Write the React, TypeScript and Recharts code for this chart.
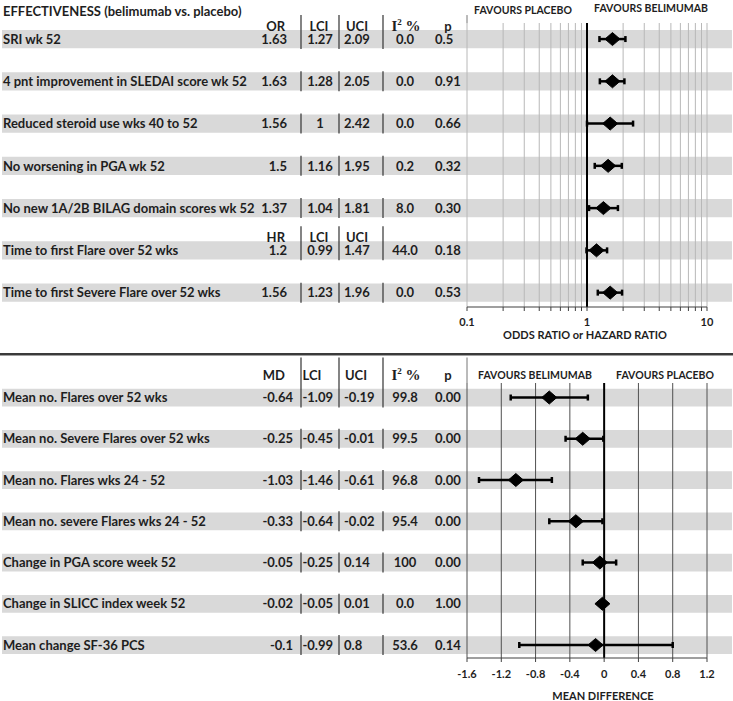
import React from 'react';
import { ComposedChart, XAxis, YAxis, Scatter, ErrorBar, ReferenceArea, ReferenceLine } from 'recharts';

const FONT = 'Lato, "Open Sans", sans-serif';
const SERIF = '"Liberation Serif", "DejaVu Serif", serif';
const TEXT = '#1e1e1e';
const BAND = '#d9d9d9';

// ---------- top panel: effectiveness (OR / HR) ----------
const effLabels = [
  'SRI wk 52',
  '4 pnt improvement in SLEDAI score wk 52',
  'Reduced steroid use wks 40 to 52',
  'No worsening in PGA wk 52',
  'No new 1A/2B BILAG domain scores wk 52',
  'Time to first Flare over  52 wks',
  'Time to first Severe Flare over 52 wks',
];
const effEst = [1.63, 1.63, 1.56, 1.5, 1.37, 1.2, 1.56];
const effLci = [1.27, 1.28, 1, 1.16, 1.04, 0.99, 1.23];
const effUci = [2.09, 2.05, 2.42, 1.95, 1.81, 1.47, 1.96];
const effI2 = ['0.0', '0.0', '0.0', '0.2', '8.0', '44.0', '0.0'];
const effP = ['0.5', '0.91', '0.66', '0.32', '0.30', '0.18', '0.53'];
const effHeaders = [
  { row: 1, est: 'OR', full: true },
  { row: 6, est: 'HR', full: false },
];
const logGrid = [0.1, 0.2, 0.3, 0.4, 0.5, 0.6, 0.7, 0.8, 0.9, 1, 2, 3, 4, 5, 6, 7, 8, 9, 10];
const logMajor = [0.1, 1, 10];

// ---------- bottom panel: mean differences ----------
const mdLabels = [
  'Mean no. Flares over 52 wks',
  'Mean no. Severe Flares over 52 wks',
  'Mean no. Flares wks 24 - 52',
  'Mean no. severe Flares wks 24 - 52',
  'Change in PGA score week 52',
  'Change in SLICC index week 52',
  'Mean change SF-36 PCS',
];
const mdEst = [-0.64, -0.25, -1.03, -0.33, -0.05, -0.02, -0.1];
const mdLci = [-1.09, -0.45, -1.46, -0.64, -0.25, -0.05, -0.99];
const mdUci = [-0.19, -0.01, -0.61, -0.02, 0.14, 0.01, 0.8];
const mdI2 = ['99.8', '99.5', '96.8', '95.4', '100', '0.0', '53.6'];
const mdP = ['0.00', '0.00', '0.00', '0.00', '0.00', '1.00', '0.14'];
const mdHeaders = [{ row: 1, est: 'MD', full: true }];
const mdTicks = [-1.6, -1.2, -0.8, -0.4, 0, 0.4, 0.8, 1.2];

type Row = { row: number; label: string; est: number; lci: number; uci: number; i2: string; p: string; err: number[] };

const buildRows = (labels: string[], est: number[], lci: number[], uci: number[], i2: string[], p: string[]): Row[] =>
  labels.map((label, i) => ({
    row: i + 1,
    label,
    est: est[i],
    lci: lci[i],
    uci: uci[i],
    i2: i2[i],
    p: p[i],
    err: [est[i] - lci[i], uci[i] - est[i]],
  }));

const effRows = buildRows(effLabels, effEst, effLci, effUci, effI2, effP);
const mdRows = buildRows(mdLabels, mdEst, mdLci, mdUci, mdI2, mdP);

type TableLayout = {
  estX: number;
  lciX: number;
  lciAnchor: 'middle' | 'end';
  lciHeadX: number;
  uciHeadX: number;
  headDy: number;
  sepTop: number;
  plotTop: number;
  headers: { row: number; est: string; full: boolean }[];
};

const topLayout: TableLayout = {
  estX: 287, lciX: 320, lciAnchor: 'middle', lciHeadX: 319, uciHeadX: 357,
  headDy: -13, sepTop: -24, plotTop: -16, headers: effHeaders,
};
const bottomLayout: TableLayout = {
  estX: 293, lciX: 333, lciAnchor: 'end', lciHeadX: 312, uciHeadX: 356,
  headDy: -22.5, sepTop: -40, plotTop: -14.5, headers: mdHeaders,
};

const SEPS = [301, 339, 383];
const PLOT_LEFT = 467;

const txt = { fontFamily: FONT, fontWeight: 700, fontSize: 13, fill: TEXT } as const;

function makeTableTick(rows: Row[], L: TableLayout) {
  return function TableTick(props: any) {
    const { y, payload } = props;
    const r = rows.find((d) => d.row === payload.value);
    if (!r) return <g />;
    const ty = y + 4.7;
    const hdr = L.headers.find((h) => h.row === r.row);
    const hy = y + L.headDy + 4.7;
    return (
      <g>
        <text x={3} y={ty} {...txt}>{r.label}</text>
        <text x={L.estX} y={ty} textAnchor="end" {...txt}>{String(r.est)}</text>
        <text x={L.lciX} y={ty} textAnchor={L.lciAnchor} {...txt}>{String(r.lci)}</text>
        <text x={344} y={ty} {...txt}>{String(r.uci)}</text>
        <text x={405} y={ty} textAnchor="middle" {...txt}>{r.i2}</text>
        <text x={435} y={ty} {...txt}>{r.p}</text>
        {SEPS.map((sx) => (
          <line key={sx} x1={sx} x2={sx} y1={hdr ? y + L.sepTop : y - 10} y2={y + 10} stroke="#333" strokeWidth={1.2} />
        ))}
        {hdr && (
          <g>
            <text x={285} y={hy} textAnchor="end" {...txt}>{hdr.est}</text>
            <text x={L.lciHeadX} y={hy} textAnchor="middle" {...txt}>LCI</text>
            <text x={L.uciHeadX} y={hy} textAnchor="middle" {...txt}>UCI</text>
            {hdr.full && (
              <g>
                <text x={406} y={hy} textAnchor="middle" fontFamily={SERIF} fontWeight={700} fontSize={15} fill={TEXT}>
                  I<tspan fontSize={9} dy={-6}>2</tspan>
                  <tspan dy={6}> %</tspan>
                </text>
                <text x={448} y={hy} textAnchor="middle" {...txt}>p</text>
                <line x1={PLOT_LEFT} x2={PLOT_LEFT} y1={y + L.sepTop} y2={y + L.plotTop} stroke="#777" strokeWidth={1} />
              </g>
            )}
          </g>
        )}
      </g>
    );
  };
}

const Diamond = (props: any) => {
  const { cx, cy } = props;
  if (cx == null || cy == null) return <g />;
  return (
    <polygon
      points={`${cx - 7.5},${cy} ${cx},${cy - 6.5} ${cx + 7.5},${cy} ${cx},${cy + 6.5}`}
      fill="#000"
      stroke="#000"
    />
  );
};

const LogTick = (props: any) => {
  const { x, y, payload } = props;
  if (!logMajor.includes(payload.value)) return <g />;
  return (
    <text x={x} y={y + 13} textAnchor="middle" fontFamily={FONT} fontWeight={700} fontSize={11} fill={TEXT}>
      {String(payload.value)}
    </text>
  );
};

const LinTick = (props: any) => {
  const { x, y, payload } = props;
  return (
    <text x={x} y={y + 14} textAnchor="middle" fontFamily={FONT} fontWeight={700} fontSize={11} fill={TEXT}>
      {String(payload.value)}
    </text>
  );
};

const EffTick = makeTableTick(effRows, topLayout);
const MdTick = makeTableTick(mdRows, bottomLayout);
const ROWS = effRows.map((r) => r.row);

const Label = ({ x, y, children, anchor = 'middle', size = 11 }: any) => (
  <div
    style={{
      position: 'absolute',
      left: x,
      top: y,
      transform: `translate(${anchor === 'middle' ? '-50%' : anchor === 'end' ? '-100%' : '0'}, -50%)`,
      fontFamily: FONT,
      fontWeight: 700,
      fontSize: size,
      color: TEXT,
      whiteSpace: 'pre',
      lineHeight: 1,
    }}
  >
    {children}
  </div>
);

const TOP_DOMAIN: [number, number] = [0.62, 7.34];
const BOT_DOMAIN: [number, number] = [0.648, 7.315];
const HALF_BAND = 0.215;

export default function App() {
  return (
    <div style={{ position: 'absolute', left: 0, top: 0, width: 733, height: 701, background: '#fff', overflow: 'hidden' }}>
      <div style={{ position: 'absolute', left: 0, top: 0 }}>
        <ComposedChart width={733} height={350} data={effRows} margin={{ top: 23, right: 1, bottom: 3, left: 0 }}>
          <XAxis xAxisId="full" type="number" orientation="top" dataKey="row" domain={[0, 1]} allowDataOverflow hide />
          <XAxis
            xAxisId="main"
            type="number"
            dataKey="est"
            scale="log"
            domain={[0.1, 10]}
            allowDataOverflow
            ticks={logGrid}
            interval={0}
            padding={{ left: 465, right: 25 }}
            height={40}
            axisLine={false}
            tickLine={{ stroke: '#404040' }}
            tickSize={4}
            tickMargin={2}
            tick={LogTick}
          />
          <YAxis
            yAxisId="rows"
            type="number"
            dataKey="row"
            domain={TOP_DOMAIN}
            allowDataOverflow
            reversed
            width={2}
            ticks={ROWS}
            interval={0}
            axisLine={false}
            tickLine={false}
            tick={EffTick}
          />
          {effRows.map((r) => (
            <ReferenceArea
              key={`a${r.row}`}
              xAxisId="full"
              yAxisId="rows"
              y1={r.row - HALF_BAND}
              y2={r.row + HALF_BAND}
              fill={BAND}
              fillOpacity={1}
              stroke="none"
              ifOverflow="visible"
              zIndex={100}
            />
          ))}
          {logGrid.map((v) => (
            <ReferenceLine
              key={`g${v}`}
              xAxisId="main"
              yAxisId="rows"
              x={v}
              stroke={v === 1 ? '#000' : '#b8b8b8'}
              strokeWidth={v === 1 ? 2 : 1}
              ifOverflow="visible"
              zIndex={400}
            />
          ))}
          <ReferenceLine
            xAxisId="main"
            yAxisId="rows"
            segment={[{ x: 0.1, y: TOP_DOMAIN[1] }, { x: 10, y: TOP_DOMAIN[1] }]}
            stroke="#404040"
            strokeWidth={1.2}
            ifOverflow="visible"
            zIndex={400}
          />
          <Scatter xAxisId="main" yAxisId="rows" data={effRows} shape={Diamond} isAnimationActive={false} zIndex={600}>
            <ErrorBar dataKey="err" direction="x" width={3} stroke="#000" strokeWidth={2.5} isAnimationActive={false} />
          </Scatter>
        </ComposedChart>
      </div>

      <div style={{ position: 'absolute', left: 0, top: 353, width: 733, height: 2, background: '#3a3a3a' }} />
      <div style={{ position: 'absolute', left: 0, top: 355, width: 733, height: 1, background: '#a0a0a0' }} />

      <div style={{ position: 'absolute', left: 0, top: 355 }}>
        <ComposedChart width={733} height={346} data={mdRows} margin={{ top: 28, right: 1, bottom: 3, left: 0 }}>
          <XAxis xAxisId="full" type="number" orientation="top" dataKey="row" domain={[0, 1]} allowDataOverflow hide />
          <XAxis
            xAxisId="main"
            type="number"
            dataKey="est"
            domain={[-1.6, 1.2]}
            allowDataOverflow
            ticks={mdTicks}
            interval={0}
            padding={{ left: 465, right: 25 }}
            height={40}
            axisLine={false}
            tickLine={{ stroke: '#404040' }}
            tickSize={4}
            tickMargin={2}
            tick={LinTick}
          />
          <YAxis
            yAxisId="rows"
            type="number"
            dataKey="row"
            domain={BOT_DOMAIN}
            allowDataOverflow
            reversed
            width={2}
            ticks={ROWS}
            interval={0}
            axisLine={false}
            tickLine={false}
            tick={MdTick}
          />
          {mdRows.map((r) => (
            <ReferenceArea
              key={`a${r.row}`}
              xAxisId="full"
              yAxisId="rows"
              y1={r.row - HALF_BAND}
              y2={r.row + HALF_BAND}
              fill={BAND}
              fillOpacity={1}
              stroke="none"
              ifOverflow="visible"
              zIndex={100}
            />
          ))}
          {mdTicks.map((v) => (
            <ReferenceLine
              key={`g${v}`}
              xAxisId="main"
              yAxisId="rows"
              x={v}
              stroke={v === 0 ? '#000' : '#505050'}
              strokeWidth={v === 0 ? 2 : 1}
              ifOverflow="visible"
              zIndex={400}
            />
          ))}
          <ReferenceLine
            xAxisId="main"
            yAxisId="rows"
            segment={[{ x: -1.6, y: BOT_DOMAIN[1] }, { x: 1.2, y: BOT_DOMAIN[1] }]}
            stroke="#404040"
            strokeWidth={1.2}
            ifOverflow="visible"
            zIndex={400}
          />
          <Scatter xAxisId="main" yAxisId="rows" data={mdRows} shape={Diamond} isAnimationActive={false} zIndex={600}>
            <ErrorBar dataKey="err" direction="x" width={3} stroke="#000" strokeWidth={2.5} isAnimationActive={false} />
          </Scatter>
        </ComposedChart>
      </div>

      <Label x={3} y={11} anchor="start" size={13}>EFFECTIVENESS (belimumab vs. placebo)</Label>
      <Label x={523} y={10} size={10.5}>FAVOURS PLACEBO</Label>
      <Label x={651} y={8} size={10.5}>FAVOURS BELIMUMAB</Label>
      <Label x={585} y={334} size={11}>ODDS RATIO or HAZARD RATIO</Label>
      <Label x={535} y={375} size={10.5}>FAVOURS BELIMUMAB</Label>
      <Label x={665} y={375} size={10.5}>FAVOURS PLACEBO</Label>
      <Label x={603} y={695} size={11}>MEAN DIFFERENCE</Label>
    </div>
  );
}
